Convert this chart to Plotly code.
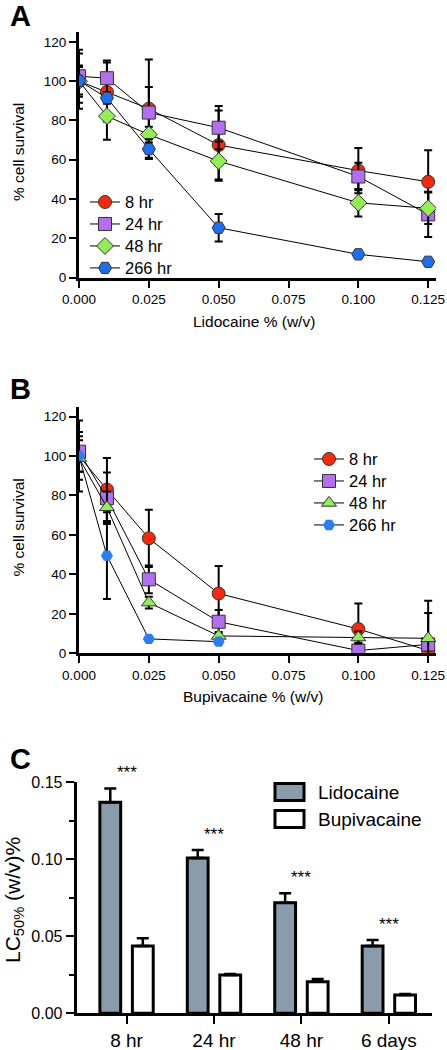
import plotly.graph_objects as go

W, H = 447, 1050

# ---------------- data ----------------
conc = [0.0, 0.01, 0.025, 0.05, 0.10, 0.125]
series_names = ["8 hr", "24 hr", "48 hr", "266 hr"]

# Panel A: Lidocaine
lido_8 = [100, 94.5, 86, 67.5, 54.5, 48.8]
lido_8_sd = [14, 15, 25, 17.5, 11.5, 16]
lido_24 = [102.5, 101.5, 84, 76.3, 51.5, 32.2]
lido_24_sd = [13.5, 9, 13, 11, 7, 11.5]
lido_48 = [100, 82.2, 72.8, 59.3, 38.1, 35.3]
lido_48_sd = [8, 12, 4, 10, 7, 8]
lido_266 = [100.2, 91.5, 65.4, 25.4, 11.9, 8.1]
lido_266_sd = [7, 3, 5, 7, 1.5, 1]

# Panel B: Bupivacaine
conc_b266 = [0.0, 0.01, 0.025, 0.05]
bupi_8 = [100, 83, 58.3, 30.3, 12.3, 1.4]
bupi_8_sd = [18, 16, 14.5, 14, 13, 19]
bupi_24 = [102.2, 78.6, 37.5, 16, 1.4, 4.5]
bupi_24_sd = [10, 13, 7, 6, 4, 3]
bupi_48 = [99, 74, 25.7, 8.8, 8, 7.6]
bupi_48_sd = [11, 8, 3, 2, 3, 19]
bupi_266 = [100, 49.5, 7.3, 5.9]
bupi_266_sd = [8, 22, 1, 1]

x_ticks = [0.0, 0.025, 0.05, 0.075, 0.1, 0.125]
x_ticklabels = ["0.000", "0.025", "0.050", "0.075", "0.100", "0.125"]
y_ticks = [0, 20, 40, 60, 80, 100, 120]

# Panel C: LC50
times = ["8 hr", "24 hr", "48 hr", "6 days"]
lc50_lido = [0.137, 0.1008, 0.0718, 0.0437]
lc50_lido_sem = [0.009, 0.0052, 0.0062, 0.0039]
lc50_bupi = [0.0437, 0.0249, 0.0205, 0.0119]
lc50_bupi_sem = [0.005, 0.0006, 0.0018, 0.0006]
signif = ["***", "***", "***", "***"]
c_ticks = [0, 0.05, 0.10, 0.15]
c_ticklabels = ["0.00", "0.05", "0.10", "0.15"]

# ---------------- styles ----------------
FONT = "Liberation Sans, Arial, Helvetica, sans-serif"
RED = "#f5290c"
PURPLE = "#b46ef2"
GREEN = "#93ee55"
BLUE = "#1e6ef2"
BLUE_B = "#2a7cf7"
GREY = "#8a9cab"

def px_x(p):
    return p / W

def px_y(p):
    return 1 - p / H

fig = go.Figure()

def big(name):
    return '<span style="font-size:16.5px">%s</span>' % name

def add_series(xs, ys, sd, name, color, symbol, size, xa, ya, legend, border=True):
    fig.add_trace(go.Scatter(
        x=xs, y=ys, name=big(name), mode="lines+markers",
        xaxis=xa, yaxis=ya, legend=legend,
        line=dict(color="black", width=1),
        marker=dict(color=color, symbol=symbol, size=size,
                    line=dict(color="#333333", width=1 if border else 0)),
        error_y=dict(type="data", array=sd, visible=True, color="black",
                     thickness=2, width=4),
    ))

# Panel A
add_series(conc, lido_8, lido_8_sd, series_names[0], RED, "circle", 13, "x", "y", "legend")
add_series(conc, lido_24, lido_24_sd, series_names[1], PURPLE, "square", 13, "x", "y", "legend")
add_series(conc, lido_48, lido_48_sd, series_names[2], GREEN, "diamond", 13, "x", "y", "legend")
add_series(conc, lido_266, lido_266_sd, series_names[3], BLUE, "hexagon2", 13, "x", "y", "legend")

# Panel B
add_series(conc, bupi_8, bupi_8_sd, series_names[0], RED, "circle", 13, "x2", "y2", "legend2")
add_series(conc, bupi_24, bupi_24_sd, series_names[1], PURPLE, "square", 13, "x2", "y2", "legend2")
add_series(conc, bupi_48, bupi_48_sd, series_names[2], GREEN, "triangle-up", 13, "x2", "y2", "legend2")
add_series(conc_b266, bupi_266, bupi_266_sd, series_names[3], BLUE_B, "hexagon2", 12, "x2", "y2", "legend2", border=False)

# Panel C
fig.add_trace(go.Bar(
    x=times, y=lc50_lido, name="Lidocaine", xaxis="x3", yaxis="y3", showlegend=False,
    marker=dict(color=GREY, line=dict(color="black", width=3)),
    error_y=dict(type="data", array=lc50_lido_sem, arrayminus=[0] * 4, color="black",
                 thickness=2.5, width=6),
))
fig.add_trace(go.Bar(
    x=times, y=lc50_bupi, name="Bupivacaine", xaxis="x3", yaxis="y3", showlegend=False,
    marker=dict(color="white", line=dict(color="black", width=3)),
    error_y=dict(type="data", array=lc50_bupi_sem, arrayminus=[0] * 4, color="black",
                 thickness=2.5, width=6),
))

# layout geometry (pixels)
A_Y = (277.7, 32.0)
B_Y = (653.3, 406.7)
C_Y = (1013.3, 782.3)
C_RANGE = [0, 0.15]

# significance stars (placed in paper space so they may sit above the axis end)
for t, v, e, s in zip(times, lc50_lido, lc50_lido_sem, signif):
    top = v + e
    ypx = C_Y[0] - (top - C_RANGE[0]) / (C_RANGE[1] - C_RANGE[0]) * (C_Y[0] - C_Y[1]) - 4
    fig.add_annotation(x=t, y=px_y(ypx), xref="x3", yref="paper", text=s,
                       showarrow=False, yanchor="bottom",
                       font=dict(family=FONT, size=17, color="black"))

# axis styles
def line_axis(domain, rng, **kw):
    d = dict(domain=domain, range=rng, showgrid=False, zeroline=False,
             showline=True, linecolor="black", linewidth=3, automargin=False,
             ticks="outside", tickcolor="black", tickwidth=2, ticklen=7,
             tickfont=dict(family=FONT, size=13.5, color="black"), fixedrange=True)
    d.update(kw)
    return d

xdom = [px_x(79), px_x(436)]
fig.update_layout(
    xaxis=line_axis(xdom, [0, 0.1278], anchor="y", tickvals=x_ticks, ticktext=x_ticklabels),
    yaxis=line_axis([px_y(A_Y[0]), px_y(A_Y[1])], [0, 125], anchor="x", tickvals=y_ticks),
    xaxis2=line_axis(xdom, [0, 0.1278], anchor="y2", tickvals=x_ticks, ticktext=x_ticklabels),
    yaxis2=line_axis([px_y(B_Y[0]), px_y(B_Y[1])], [0, 125], anchor="x2", tickvals=y_ticks),
    xaxis3=line_axis([px_x(76.7), px_x(431.7)], [-0.57, 3.49], anchor="y3", type="category",
                     ticklen=8, tickfont=dict(family=FONT, size=19, color="black"),
                     ticklabelstandoff=0),
    yaxis3=line_axis([px_y(C_Y[0]), px_y(C_Y[1])], C_RANGE, anchor="x3",
                     tickvals=c_ticks, ticktext=c_ticklabels,
                     ticklen=8, tickfont=dict(family=FONT, size=16, color="black"),
                     minor=dict(dtick=0.025, ticks="outside", ticklen=5, tickwidth=2, tickcolor="black")),
    barmode="group", bargap=0.256, bargroupgap=0.36,
)

legend_common = dict(font=dict(family=FONT, size=14.6, color="black"), bgcolor="rgba(0,0,0,0)",
                     xanchor="left", yanchor="top", tracegroupgap=0, itemclick=False)
fig.update_layout(
    legend=dict(x=px_x(85), y=px_y(186), **legend_common),
    legend2=dict(x=px_x(309), y=px_y(443), **legend_common),
)

# Panel C legend keys
def legend_box(y0, y1, fill, label):
    fig.add_shape(type="rect", xref="paper", yref="paper",
                  x0=px_x(275), x1=px_x(304), y0=px_y(y1), y1=px_y(y0),
                  fillcolor=fill, line=dict(color="black", width=3))
    fig.add_annotation(x=px_x(316), y=px_y((y0 + y1) / 2), xref="paper", yref="paper",
                       text=label, showarrow=False, xanchor="left", yanchor="middle",
                       font=dict(family=FONT, size=19, color="black"))

legend_box(783.5, 800.5, GREY, "Lidocaine")
legend_box(810.5, 827.5, "white", "Bupivacaine")

# titles & panel letters
def ann(x, y, text, size, angle=0, bold=False):
    fig.add_annotation(x=px_x(x), y=px_y(y), xref="paper", yref="paper", text=text,
                       showarrow=False, textangle=angle, xanchor="center", yanchor="middle",
                       font=dict(family=FONT, size=size, color="black",
                                 weight="bold" if bold else "normal"))

ann(253.5, 321, "Lidocaine % (w/v)", 15.5)
ann(253, 696, "Bupivacaine % (w/v)", 15.5)
ann(18, 152, "% cell survival", 15.5, angle=-90)
ann(18, 527.5, "% cell survival", 15.5, angle=-90)
ann(14, 900, "LC<sub>50%</sub> (w/v)%", 21, angle=-90)
ann(20, 16, "A", 29, bold=True)
ann(20, 389, "B", 29, bold=True)
ann(20, 759, "C", 29, bold=True)

fig.update_layout(
    width=W, height=H, margin=dict(l=0, r=0, t=0, b=0, pad=0, autoexpand=False),
    paper_bgcolor="white", plot_bgcolor="white",
    font=dict(family=FONT, color="black"),
)

fig.write_html("out.html", config={"displayModeBar": False},
               post_script="document.body.style.margin='0';document.body.style.overflow='hidden';")
